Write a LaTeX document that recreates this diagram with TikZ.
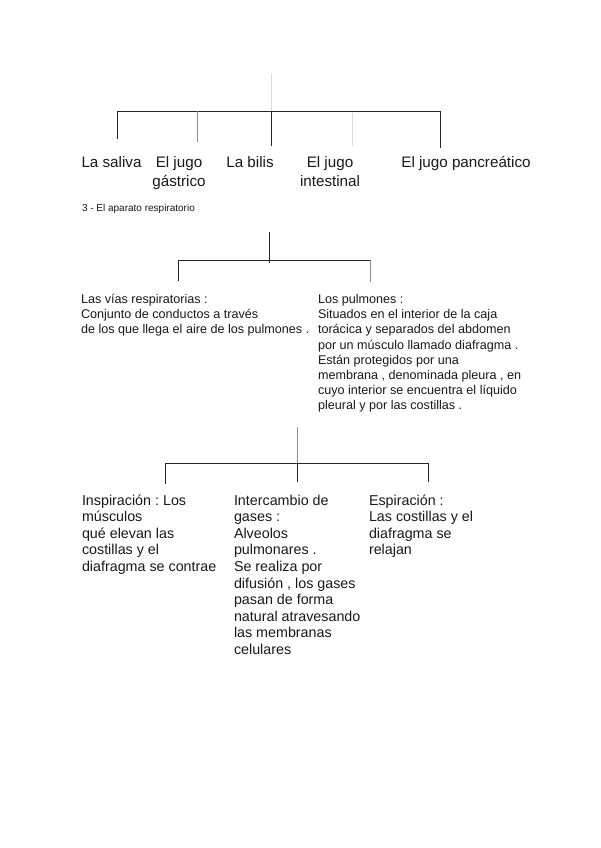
\documentclass[tikz,border=0pt]{standalone}
\usepackage{fontspec}
\setmainfont{Liberation Sans}
\frenchspacing
\newcommand{\mycol}[4]{\parbox[t]{#1}{\fontsize{#2}{#3}\selectfont\raggedright #4}}
\newcommand{\myctr}[4]{\parbox[t]{#1}{\fontsize{#2}{#3}\selectfont\centering #4}}
\begin{document}
\begin{tikzpicture}[x=1pt,y=-1pt,
  ln/.style={line width=0.8pt, black!85},
  lngray/.style={line width=0.8pt, black!45},
  lnlight/.style={line width=0.8pt, black!15},
  lt/.style={anchor=base west, inner sep=0pt, outer sep=0pt, text=black!90},
  lc/.style={anchor=base, inner sep=0pt, outer sep=0pt, text=black!90}]
\fill[white] (0,0) rectangle (600,848);
\useasboundingbox (0,0) rectangle (600,848);

% ---------- top tree ----------
\coordinate (a0) at (271,74);
\coordinate (a1) at (271,111);
\coordinate (aL) at (117,111);
\coordinate (aR) at (440,111);
\coordinate (aG) at (197,111);
\coordinate (aI) at (352,113);
\coordinate (d1) at (117,139);
\coordinate (d2) at (197,142);
\coordinate (d3) at (271,146);
\coordinate (d4) at (352,146);
\coordinate (d5) at (440,148);
\draw[lnlight] (a0) -- (a1);
\draw[ln] (aL) -- (aR);
\draw[ln] (aL) -- (d1);
\draw[lngray] (aG) -- (d2);
\draw[ln] (a1) -- (d3);
\draw[lnlight] (aI) -- (d4);
\draw[ln] (aR) -- (d5);

\node[lc] (saliva) at (111.5,167) {\fontsize{15.2}{19}\selectfont La saliva};
\node[lc] (gastrico) at (179,167) {\myctr{70pt}{15.2}{19}{El jugo\\gástrico}};
\node[lc] (bilis) at (250,167) {\fontsize{15.2}{19}\selectfont La bilis};
\node[lc] (intestinal) at (330,167) {\myctr{80pt}{15.2}{19}{El jugo\\intestinal}};
\node[lc] (pancreatico) at (466,167) {\fontsize{15.2}{19}\selectfont El jugo pancreático};

\node[lt] (h3) at (82,211) {\fontsize{10}{12}\selectfont 3 - El aparato respiratorio};

% ---------- second tree ----------
\coordinate (b0) at (269,232);
\coordinate (b1) at (269,263);
\coordinate (bL) at (178,260);
\coordinate (bR) at (370,260);
\coordinate (e1) at (178,281);
\coordinate (e2) at (370,282);
\draw[ln] (b0) -- (b1);
\draw[ln] (bL) -- (bR);
\draw[ln] (bL) -- (e1);
\draw[lngray] (bR) -- (e2);

\node[lt] (vias) at (81,303.5) {\mycol{250pt}{12.6}{15.2}{Las vías respiratorias :\\Conjunto de conductos a través\\de los que llega el aire de los pulmones .}};
\node[lt] (pulmones) at (318,303.5) {\mycol{240pt}{12.6}{15.2}{Los pulmones :\\Situados en el interior de la caja\\torácica y separados del abdomen\\por un músculo llamado diafragma .\\Están protegidos por una\\membrana , denominada pleura , en\\cuyo interior se encuentra el líquido\\pleural y por las costillas .}};

% ---------- third tree ----------
\coordinate (c0) at (297,427);
\coordinate (c1) at (297,463);
\coordinate (cL) at (165,463);
\coordinate (cR) at (428,463);
\coordinate (f1) at (165,484);
\coordinate (f2) at (297,482);
\coordinate (f3) at (428,482);
\draw[lngray] (c0) -- (c1);
\draw[ln] (cL) -- (cR);
\draw[ln] (cL) -- (f1);
\draw[ln] (c1) -- (f2);
\draw[ln] (cR) -- (f3);

\node[lt] (insp) at (82,505) {\mycol{160pt}{14.3}{16.6}{Inspiración : Los\\músculos\\qué elevan las\\costillas y el\\diafragma se contrae}};
\node[lt] (inter) at (234,505) {\mycol{150pt}{14.3}{16.6}{Intercambio de\\gases :\\Alveolos\\pulmonares .\\Se realiza por\\difusión , los gases\\pasan de forma\\natural atravesando\\las membranas\\celulares}};
\node[lt] (esp) at (369,505) {\mycol{140pt}{14.3}{16.6}{Espiración :\\Las costillas y el\\diafragma se\\relajan}};
\end{tikzpicture}
\end{document}
